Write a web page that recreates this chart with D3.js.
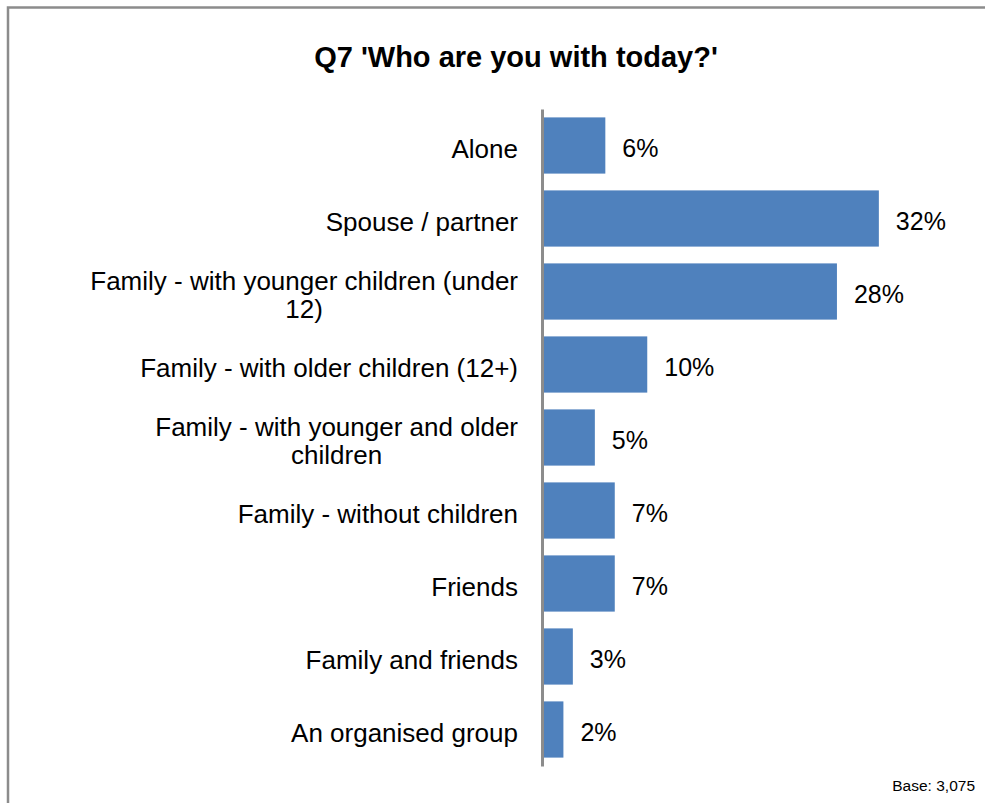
<!DOCTYPE html>
<html>
<head>
<meta charset="utf-8">
<script src="https://cdn.jsdelivr.net/npm/d3@7"></script>
<style>
  body { margin: 0; background: #fff; }
  svg { display: block; font-family: "Liberation Sans", Arial, sans-serif; }
</style>
</head>
<body>
<div id="chart"></div>
<script>
// svg area
var svgWidth = 985;
var svgHeight = 803;

// chart data
var categories = [
    'Alone',
    'Spouse / partner',
    'Family - with younger children (under 12)',
    'Family - with older children (12+)',
    'Family - with younger and older children',
    'Family - without children',
    'Friends',
    'Family and friends',
    'An organised group'
];
var values = [5.9, 32.0, 28.0, 9.9, 4.9, 6.8, 6.8, 2.8, 1.9];
var chartTitle = "Q7 'Who are you with today?'";
var baseNote = 'Base: 3,075';

var data = categories.map((c, i) => ({ cat: c, val: values[i] }));

// plot area
var axisX = 542;
var plotTop = 109;
var plotBottom = 766;
var labelSize = 26;

var svg = d3.select('#chart')
    .append('svg')
    .attr('width', svgWidth)
    .attr('height', svgHeight);

// outer frame (runs off the bottom/right edge)
svg.append('rect')
    .attr('x', 8)
    .attr('y', 7.5)
    .attr('width', svgWidth + 20)
    .attr('height', svgHeight + 20)
    .attr('fill', 'none')
    .attr('stroke', '#8c8c8c')
    .attr('stroke-width', 2.5);

// title
svg.append('text')
    .attr('x', 516)
    .attr('y', 67)
    .attr('text-anchor', 'middle')
    .attr('font-size', 29)
    .attr('font-weight', 'bold')
    .attr('fill', '#000')
    .text(chartTitle);

// scales
var xScale = d3.scaleLinear()
    .domain([0, 35])
    .range([axisX + 1.5, axisX + 1.5 + 35 * 10.48]);

var yScale = d3.scaleBand()
    .domain(categories)
    .range([plotTop, plotBottom])
    .paddingInner(0.23)
    .paddingOuter(0.115);

// bars
svg.append('g')
    .selectAll('rect')
    .data(data)
    .enter()
    .append('rect')
    .attr('x', xScale(0))
    .attr('y', d => yScale(d.cat))
    .attr('width', d => xScale(d.val) - xScale(0))
    .attr('height', yScale.bandwidth())
    .attr('fill', '#4f81bd');

// value labels
svg.append('g')
    .selectAll('text')
    .data(data)
    .enter()
    .append('text')
    .attr('x', d => xScale(d.val) + 17)
    .attr('y', d => yScale(d.cat) + yScale.bandwidth() / 2)
    .attr('dy', '0.47em')
    .attr('font-size', 25)
    .attr('fill', '#000')
    .text(d => Math.round(d.val) + '%');

// category axis
var leftAxis = d3.axisLeft(yScale).tickSize(0).tickPadding(24);
var axisGroup = svg.append('g')
    .attr('transform', `translate(${axisX}, 0)`)
    .call(leftAxis);

axisGroup.select('.domain')
    .attr('stroke', '#8c8c8c')
    .attr('stroke-width', 3);

axisGroup.selectAll('.tick text')
    .attr('font-size', labelSize)
    .attr('font-family', '"Liberation Sans", Arial, sans-serif')
    .attr('fill', '#000')
    .attr('dy', '0.47em')
    .each(function () { wrap(d3.select(this), 450); });

// wrap long category names, centring the lines like Excel does
function wrap(text, maxWidth) {
    var words = text.text().split(/\s+/);
    var lines = [];
    var line = [];
    text.text(null);
    var probe = text.append('tspan');
    words.forEach(w => {
        line.push(w);
        probe.text(line.join(' '));
        if (probe.node().getComputedTextLength() > maxWidth && line.length > 1) {
            line.pop();
            lines.push(line.join(' '));
            line = [w];
        }
    });
    lines.push(line.join(' '));
    probe.remove();
    if (lines.length === 1) {
        text.text(lines[0]);
        return;
    }
    var widths = lines.map(l => {
        var t = text.append('tspan').text(l);
        var w = t.node().getComputedTextLength();
        t.remove();
        return w;
    });
    var maxW = d3.max(widths);
    var cx = +text.attr('x') - maxW / 2;
    var lh = 28;
    text.attr('text-anchor', 'middle').attr('dy', null);
    lines.forEach((l, i) => {
        text.append('tspan')
            .attr('x', cx)
            .attr('y', (i - (lines.length - 1) / 2) * lh)
            .attr('dy', '0.47em')
            .text(l);
    });
}

// base note
svg.append('text')
    .attr('x', 975)
    .attr('y', 791)
    .attr('text-anchor', 'end')
    .attr('font-size', 15.5)
    .attr('fill', '#000')
    .text(baseNote);
</script>
</body>
</html>
